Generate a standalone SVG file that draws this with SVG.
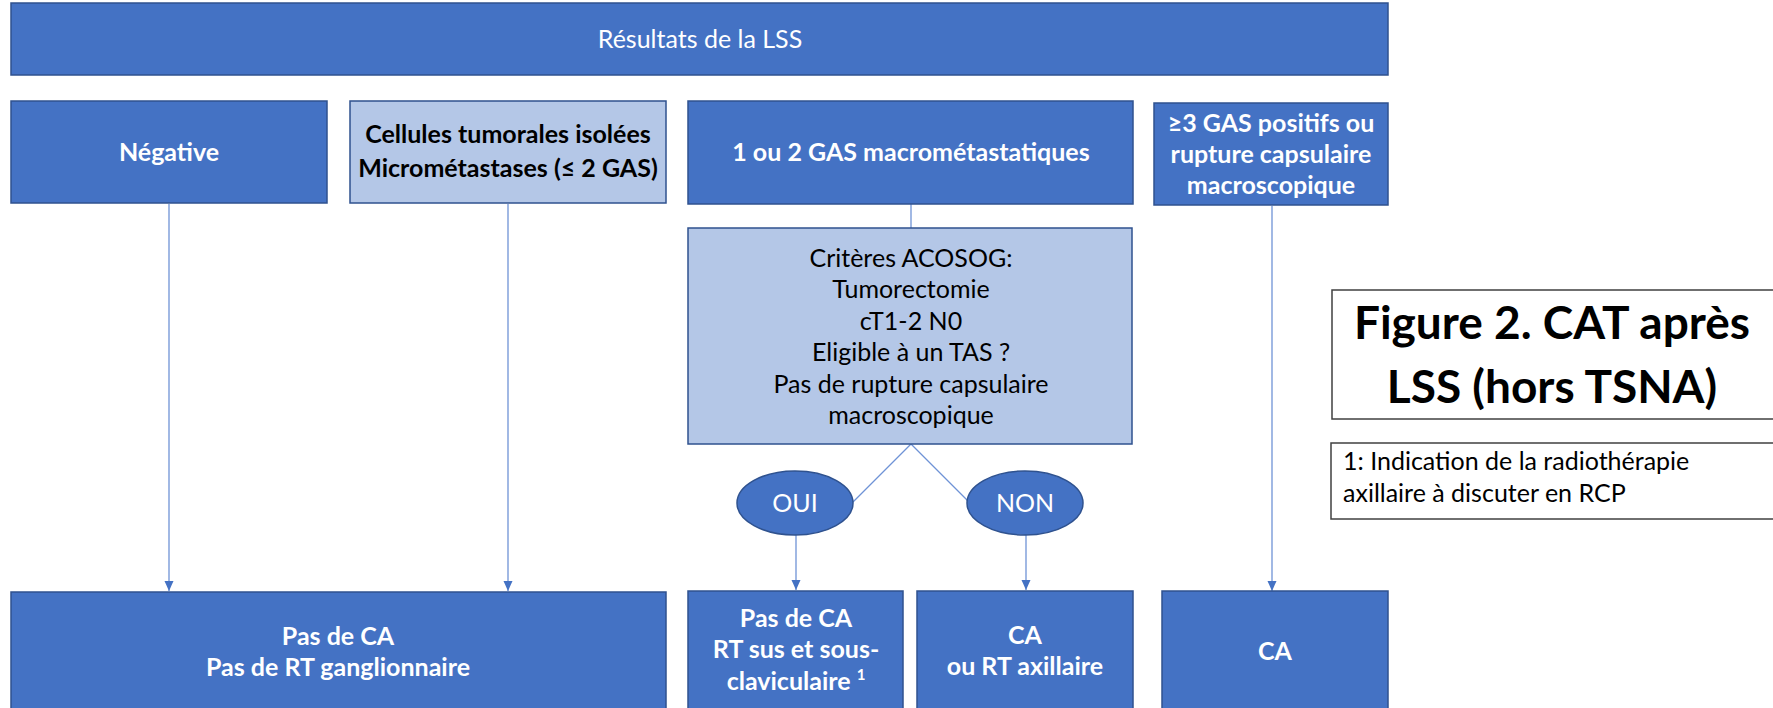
<svg xmlns="http://www.w3.org/2000/svg" width="1773" height="708" viewBox="0 0 1773 708">
  <style>
    .dark { fill: #4472C4; stroke: #2F528F; stroke-width: 1.5; }
    .light { fill: #B4C7E7; stroke: #2F528F; stroke-width: 1.5; }
    .plain { fill: #FFFFFF; stroke: #404040; stroke-width: 1.5; }
    .t { font-family: Lato, "Liberation Sans", sans-serif; font-size: 25px; text-anchor: middle; }
    .w { fill: #FFFFFF; }
    .k { fill: #000000; }
    .b { font-weight: bold; }
    .title { font-family: Lato, "Liberation Sans", sans-serif; font-size: 46px; font-weight: bold; text-anchor: middle; fill: #000000; }
    .note { font-family: Lato, "Liberation Sans", sans-serif; font-size: 25px; fill: #000000; }
    .conn { stroke: #6F93D6; stroke-width: 1.3; fill: none; }
  </style>
  <defs>
    <marker id="arrow" markerUnits="userSpaceOnUse" markerWidth="10" markerHeight="10" viewBox="0 0 10 10" refX="10" refY="5" orient="auto">
      <path d="M0,0.5 L10,5 L0,9.5 Z" fill="#4472C4"/>
    </marker>
  </defs>

  <rect width="1773" height="708" fill="#FFFFFF"/>

  <!-- connectors -->
  <g id="connectors">
    <line class="conn" x1="169" y1="204" x2="169" y2="591" marker-end="url(#arrow)"/>
    <line class="conn" x1="508" y1="204" x2="508" y2="591" marker-end="url(#arrow)"/>
    <line class="conn" x1="911" y1="204" x2="911" y2="228"/>
    <line class="conn" x1="1272" y1="206" x2="1272" y2="591" marker-end="url(#arrow)"/>
    <line class="conn" x1="911" y1="444" x2="853" y2="502"/>
    <line class="conn" x1="911" y1="444" x2="968" y2="501"/>
    <line class="conn" x1="796" y1="535" x2="796" y2="590" marker-end="url(#arrow)"/>
    <line class="conn" x1="1026" y1="535" x2="1026" y2="590" marker-end="url(#arrow)"/>
  </g>

  <g id="resultats">
    <rect class="dark" x="11" y="3" width="1377" height="72"/>
    <text class="t w" x="700" y="48">Résultats de la LSS</text>
  </g>

  <g id="negative">
    <rect class="dark" x="11" y="101" width="316" height="102"/>
    <text class="t w b" x="169" y="161">Négative</text>
  </g>

  <g id="cellules">
    <rect class="light" x="350" y="101" width="316" height="102"/>
    <text class="t k b" x="508" y="143">Cellules tumorales isolées</text>
    <text class="t k b" x="508" y="177">Micrométastases (≤ 2 GAS)</text>
  </g>

  <g id="macro">
    <rect class="dark" x="688" y="101" width="445" height="103"/>
    <text class="t w b" x="911" y="161">1 ou 2 GAS macrométastatiques</text>
  </g>

  <g id="sup3">
    <rect class="dark" x="1154" y="103" width="234" height="102"/>
    <text class="t w b" x="1271" y="132">≥3 GAS positifs ou</text>
    <text class="t w b" x="1271" y="163">rupture capsulaire</text>
    <text class="t w b" x="1271" y="194">macroscopique</text>
  </g>

  <g id="acosog">
    <rect class="light" x="688" y="228" width="444" height="216"/>
    <text class="t k" x="911" y="267">Critères ACOSOG:</text>
    <text class="t k" x="911" y="298">Tumorectomie</text>
    <text class="t k" x="911" y="330">cT1-2 N0</text>
    <text class="t k" x="911" y="361">Eligible à un TAS ?</text>
    <text class="t k" x="911" y="393">Pas de rupture capsulaire</text>
    <text class="t k" x="911" y="424">macroscopique</text>
  </g>

  <g id="oui">
    <ellipse class="dark" cx="795" cy="503" rx="58" ry="32"/>
    <text class="t w" x="795" y="512">OUI</text>
  </g>

  <g id="non">
    <ellipse class="dark" cx="1025" cy="503" rx="58" ry="32"/>
    <text class="t w" x="1025" y="512">NON</text>
  </g>

  <g id="pas-ca-rt">
    <rect class="dark" x="11" y="592" width="655" height="130"/>
    <text class="t w b" x="338" y="645">Pas de CA</text>
    <text class="t w b" x="338" y="676">Pas de RT ganglionnaire</text>
  </g>

  <g id="pas-ca-sus">
    <rect class="dark" x="688" y="591" width="215" height="130"/>
    <text class="t w b" x="796" y="627">Pas de CA</text>
    <text class="t w b" x="796" y="658">RT sus et sous-</text>
    <text class="t w b" x="796" y="690">claviculaire <tspan font-size="15" dy="-10">1</tspan></text>
  </g>

  <g id="ca-rt-axillaire">
    <rect class="dark" x="917" y="591" width="216" height="130"/>
    <text class="t w b" x="1025" y="644">CA</text>
    <text class="t w b" x="1025" y="675">ou RT axillaire</text>
  </g>

  <g id="ca">
    <rect class="dark" x="1162" y="591" width="226" height="130"/>
    <text class="t w b" x="1275" y="660">CA</text>
  </g>

  <g id="figure-title">
    <rect class="plain" x="1332" y="290" width="450" height="129"/>
    <text class="title" x="1552" y="339">Figure 2. CAT après</text>
    <text class="title" x="1552" y="403">LSS (hors TSNA)</text>
  </g>

  <g id="footnote">
    <rect class="plain" x="1331" y="443" width="450" height="76"/>
    <text class="note" x="1343" y="470">1: Indication de la radiothérapie</text>
    <text class="note" x="1343" y="502">axillaire à discuter en RCP</text>
  </g>
</svg>
